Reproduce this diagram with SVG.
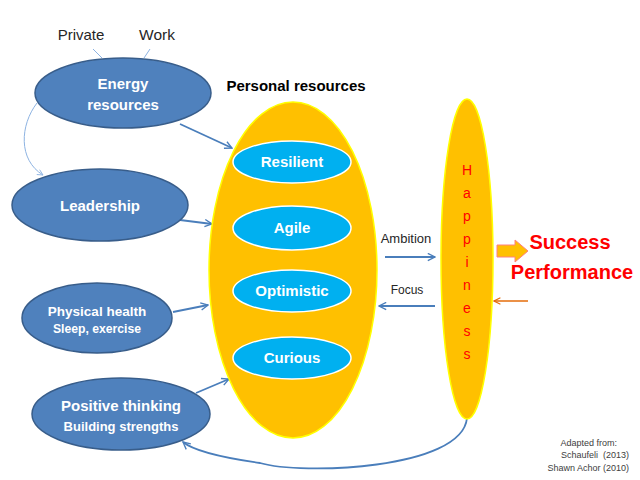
<svg xmlns="http://www.w3.org/2000/svg" width="640" height="480" viewBox="0 0 640 480">
<defs>
<marker id="ab" viewBox="0 0 10 10" refX="9" refY="5" markerWidth="9" markerHeight="9" markerUnits="userSpaceOnUse" orient="auto"><path d="M1,1 L9,5 L1,9" fill="none" stroke="#4A7EBB" stroke-width="1.5"/></marker>
<marker id="al" viewBox="0 0 10 10" refX="9" refY="5" markerWidth="7" markerHeight="7" markerUnits="userSpaceOnUse" orient="auto"><path d="M1,1 L9,5 L1,9" fill="none" stroke="#8DB3E2" stroke-width="1.2"/></marker>
<marker id="ao" viewBox="0 0 10 10" refX="9" refY="5" markerWidth="8" markerHeight="8" markerUnits="userSpaceOnUse" orient="auto"><path d="M1,1 L9,5 L1,9" fill="none" stroke="#E46C0A" stroke-width="1.4"/></marker>
</defs>
<style>
.blue{fill:#4F81BD;stroke:#385D8A;stroke-width:1.5}
.cyan{fill:#00B0F0;stroke:#FFFFFF;stroke-width:1.5}
.gold{fill:#FFC000;stroke:#FFFF00;stroke-width:1.5}
.wt{font-family:"Liberation Sans",Arial,sans-serif;font-weight:bold;fill:#FFFFFF;text-anchor:middle}
.bt{font-family:"Liberation Sans",Arial,sans-serif;fill:#262626;text-anchor:middle}
.conn{fill:none;stroke:#4A7EBB;stroke-width:1.8;marker-end:url(#ab)}
.hp{font-family:"Liberation Sans",Arial,sans-serif;fill:#FF0000;font-size:14px;text-anchor:middle}
.red{font-family:"Liberation Sans",Arial,sans-serif;font-weight:bold;fill:#FF0000;font-size:20px;text-anchor:middle}
.src{font-family:"Liberation Sans",Arial,sans-serif;fill:#404040;font-size:9px;text-anchor:end}
</style>
<rect width="640" height="480" fill="#FFFFFF"/>

<g id="connectors">
<line x1="93" y1="49" x2="102" y2="58" stroke="#8DB3E2" stroke-width="1"/>
<line x1="150" y1="49" x2="144" y2="58" stroke="#8DB3E2" stroke-width="1"/>
<path d="M37,103 C20,125 18,160 43,175" fill="none" stroke="#8DB3E2" stroke-width="1" marker-end="url(#al)"/>
<path class="conn" d="M180,124 L232,148"/>
<path class="conn" d="M180,220 L212,224"/>
<path class="conn" d="M173,312 L208,305"/>
<path class="conn" d="M196,393 L229,379"/>
<path class="conn" d="M385,257 L435,257"/>
<path class="conn" d="M435,306 L379,306"/>
<path d="M528,301 L494,301" fill="none" stroke="#E46C0A" stroke-width="1.4" marker-end="url(#ao)"/>
<path class="conn" d="M467,418 C462,470 300,475 260,463 C225,458 195,452 183,442"/>
</g>

<g id="private"><text class="bt" x="81" y="40" font-size="15">Private</text></g>
<g id="work"><text class="bt" x="157" y="40" font-size="15.5">Work</text></g>

<g id="energy">
<ellipse class="blue" cx="123" cy="93" rx="88" ry="35"/>
<text class="wt" x="123" y="89" font-size="15">Energy</text>
<text class="wt" x="123" y="110" font-size="15">resources</text>
</g>

<g id="leadership">
<ellipse class="blue" cx="100" cy="205" rx="88" ry="36"/>
<text class="wt" x="100" y="211" font-size="15">Leadership</text>
</g>

<g id="physical">
<ellipse class="blue" cx="97" cy="318" rx="75" ry="35"/>
<text class="wt" x="97" y="316" font-size="13.5">Physical health</text>
<text class="wt" x="97" y="333" font-size="12.2">Sleep, exercise</text>
</g>

<g id="positive">
<ellipse class="blue" cx="121" cy="414" rx="89" ry="36"/>
<text class="wt" x="121" y="411" font-size="15">Positive thinking</text>
<text class="wt" x="121" y="431" font-size="13">Building strengths</text>
</g>

<g id="personal">
<text x="296" y="91" font-family="Liberation Sans,Arial,sans-serif" font-weight="bold" font-size="15" fill="#000000" text-anchor="middle">Personal resources</text>
<ellipse class="gold" cx="293" cy="270" rx="84" ry="168"/>
</g>

<g id="resilient">
<ellipse class="cyan" cx="292" cy="162" rx="59" ry="21"/>
<text class="wt" x="292" y="167" font-size="15">Resilient</text>
</g>
<g id="agile">
<ellipse class="cyan" cx="292" cy="228" rx="59" ry="22"/>
<text class="wt" x="292" y="233" font-size="15">Agile</text>
</g>
<g id="optimistic">
<ellipse class="cyan" cx="292" cy="291" rx="59" ry="21"/>
<text class="wt" x="292" y="296" font-size="15">Optimistic</text>
</g>
<g id="curious">
<ellipse class="cyan" cx="292" cy="358" rx="59" ry="21"/>
<text class="wt" x="292" y="363" font-size="15">Curious</text>
</g>

<g id="ambition"><text class="bt" x="406" y="243" font-size="13">Ambition</text></g>
<g id="focus"><text class="bt" x="407" y="294" font-size="12">Focus</text></g>

<g id="happiness">
<ellipse class="gold" cx="467" cy="259" rx="26" ry="160"/>
<text class="hp" x="467" y="175">H</text>
<text class="hp" x="467" y="198">a</text>
<text class="hp" x="467" y="221">p</text>
<text class="hp" x="467" y="244">p</text>
<text class="hp" x="467" y="267">i</text>
<text class="hp" x="467" y="290">n</text>
<text class="hp" x="467" y="313">e</text>
<text class="hp" x="467" y="336">s</text>
<text class="hp" x="467" y="359">s</text>
</g>

<g id="success">
<polygon points="497,245 515,245 515,240 528,251 515,262 515,257 497,257" fill="#FFC000" stroke="#FF8080" stroke-width="1"/>
<text class="red" x="570" y="249">Success</text>
<text class="red" x="572" y="279" font-size="21">Performance</text>
</g>

<g id="source">
<text class="src" x="617" y="446">Adapted from:</text>
<text class="src" x="629" y="458" xml:space="preserve">Schaufeli  (2013)</text>
<text class="src" x="629" y="471">Shawn Achor (2010)</text>
</g>
</svg>
